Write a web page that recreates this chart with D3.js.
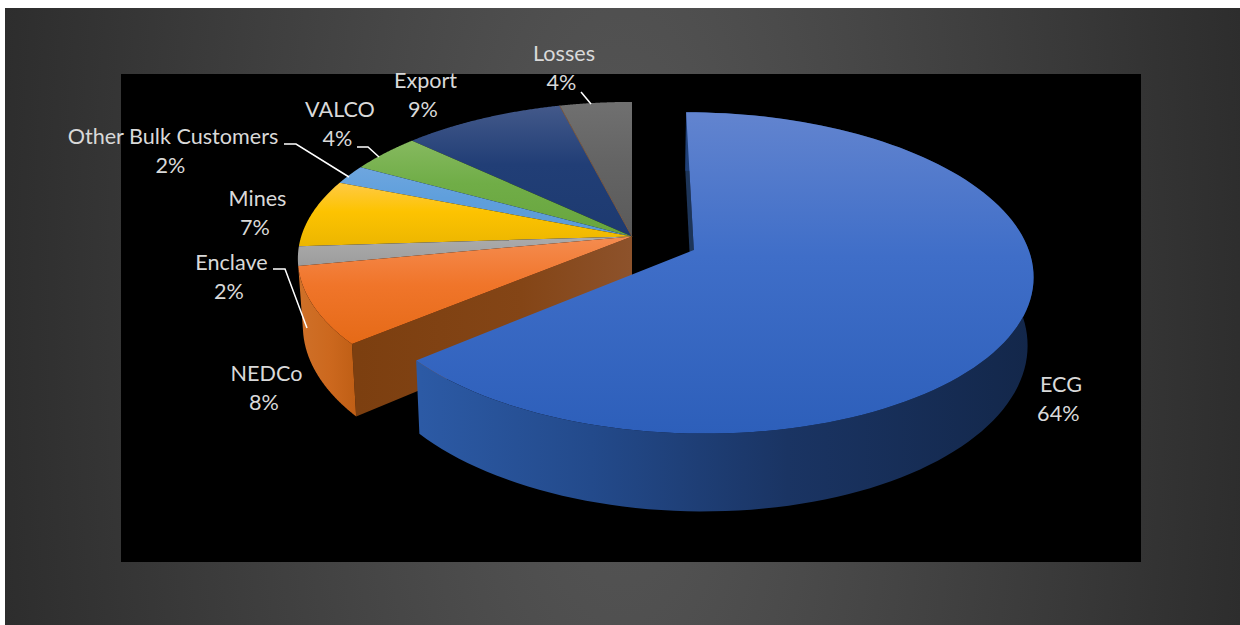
<!DOCTYPE html>
<html>
<head>
<meta charset="utf-8">
<script src="https://cdn.jsdelivr.net/npm/d3@7/dist/d3.min.js"></script>
<style>
html,body{margin:0;padding:0;background:#fff;overflow:hidden}
svg{display:block}
text{font-family:Lato,"Noto Sans",sans-serif;font-size:21.6px;fill:#d9d9d9;text-anchor:middle}
</style>
</head>
<body>
<svg id="chart" width="1240" height="625"></svg>
<script>
// Electricity consumption shares by customer class
const categories = ["ECG","NEDCo","Enclave","Mines","Other Bulk Customers","VALCO","Export","Losses"];
const shares = [64,8,2,7,2,4,9,4];

// Label centres and leader lines, in page pixels
const labelCentres = [[1061,385],[266.5,374],[231.5,263],[257.5,199],[173,137],[340,110],[425.5,81],[564,54]];
const percentNudge = -2.7;
const leaders = [null,null,
  [[273,269],[285,269],[307,328]],
  null,
  [[284,144],[296,144],[349,177]],
  [[357,147],[368,147],[379,157]],
  null,
  [[581,92],[591,104]]];

// Fill ramps for the top faces, top to bottom
const topRamps = [
  ["#6284cf","#3f6ec8","#2d5fba"],
  ["#f58c50","#f0752a","#e56a17"],
  ["#ababab","#a5a5a5","#9c9c9c"],
  ["#ffca45","#fdc301","#ecb600"],
  ["#6ea6df","#5f9fdc","#5b9ad6"],
  ["#86b95f","#70ad47","#68a53e"],
  ["#43598a","#213e76","#1d3a70"],
  ["#707070","#646464","#5a5a5a"]
];

const width = 1240, height = 625;
const svg = d3.select("#chart");
const defs = svg.append("defs");

// Ground-plane projection: x/y on the unit disc, z from top face (0) to base (1)
const cx = 632, cy = 236.5, persp = 6.95, fx = 2346, ky = 1089, drop = 458;
const radius = 0.98, explode = 0.2;
const project = (x, y, z = 0) => [
  cx + fx * x / (persp + y) * (1 - 0.015 * z),
  cy + (-ky * y + drop * z) / (persp + y)
];
const line = d3.line();

const arcs = d3.pie().value(d => d).sort(null)(shares);
const origin = i => {
  if (i !== 0) return [0, 0];
  const m = (arcs[0].startAngle + arcs[0].endAngle) / 2;
  return [explode * Math.sin(m), explode * Math.cos(m)];
};
const rimPoints = (i, a0, a1, z) => {
  const [ox, oy] = origin(i);
  return d3.range(0, 121).map(k => {
    const a = a0 + (a1 - a0) * k / 120;
    return project(ox + radius * Math.sin(a), oy + radius * Math.cos(a), z);
  });
};
const topPath = i => {
  const [ox, oy] = origin(i);
  return line([project(ox, oy), ...rimPoints(i, arcs[i].startAngle, arcs[i].endAngle, 0)]) + "Z";
};
const wallPath = (i, a0, a1) =>
  line([...rimPoints(i, a0, a1, 0), ...rimPoints(i, a0, a1, 1).reverse()]) + "Z";
const cutPath = (i, a) => {
  const [ox, oy] = origin(i);
  const rx = ox + radius * Math.sin(a), ry = oy + radius * Math.cos(a);
  return line([project(ox, oy), project(rx, ry), project(rx, ry, 1), project(ox, oy, 1)]) + "Z";
};

function gradient(id, x1, y1, x2, y2, stops, units = "userSpaceOnUse") {
  const g = defs.append("linearGradient").attr("id", id)
    .attr("gradientUnits", units)
    .attr("x1", x1).attr("y1", y1).attr("x2", x2).attr("y2", y2);
  stops.forEach(([o, c]) => g.append("stop").attr("offset", o).attr("stop-color", c));
}

// Page backdrop, brightest through the vertical middle
const bg = defs.append("radialGradient").attr("id", "backdrop")
  .attr("gradientUnits", "userSpaceOnUse").attr("cx", 0).attr("cy", 0).attr("r", 1)
  .attr("gradientTransform", "translate(622,316) scale(732,1900)");
bg.append("stop").attr("offset", 0).attr("stop-color", "#585858");
bg.append("stop").attr("offset", 1).attr("stop-color", "#262626");
svg.append("rect").attr("x", 5).attr("y", 8).attr("width", width - 5).attr("height", height - 8)
  .attr("fill", "url(#backdrop)");
svg.append("rect").attr("x", 121).attr("y", 74).attr("width", 1020).attr("height", 488).attr("fill", "#000");

// Each top face carries its own vertical ramp
arcs.forEach((d, i) => {
  gradient("top" + i, 0, 0, 0, 1, [[0, topRamps[i][0]], [0.45, topRamps[i][1]], [1, topRamps[i][2]]], "objectBoundingBox");
});
gradient("wallEcg", 420, 0, 1033, 0, [[0, "#2c5aa5"], [0.28, "#234a8b"], [0.6, "#1a3463"], [1, "#13274a"]]);
gradient("wallNedco", 300, 0, 360, 0, [[0, "#cf7028"], [0.5, "#cc681e"], [1, "#bd5d14"]]);
gradient("cutNedco", 358, 0, 631, 0, [[0, "#7c3f10"], [0.6, "#844516"], [1, "#8d522b"]]);

// Rear slices only show their top faces
[7, 6, 5, 4, 3, 2].forEach(i => {
  svg.append("path").attr("d", topPath(i)).attr("fill", `url(#top${i})`);
});
// Hairline where Export meets Losses
svg.append("path")
  .attr("d", line([project(0, 0), ...rimPoints(7, arcs[7].startAngle, arcs[7].startAngle, 0).slice(0, 1)]))
  .attr("stroke", "#7a5a44").attr("stroke-width", 1).attr("fill", "none");

// NEDCo: cut face, rim, then top
svg.append("path").attr("d", cutPath(1, arcs[1].startAngle)).attr("fill", "url(#cutNedco)");
svg.append("path").attr("d", wallPath(1, arcs[1].startAngle, arcs[1].endAngle)).attr("fill", "url(#wallNedco)");
svg.append("path").attr("d", topPath(1)).attr("fill", "url(#top1)");

// ECG: exploded slice with its inner sliver, rim and top
svg.append("path").attr("d", cutPath(0, arcs[0].startAngle)).attr("fill", "#1d3559");
svg.append("path").attr("d", wallPath(0, arcs[0].startAngle, arcs[0].endAngle)).attr("fill", "url(#wallEcg)");
svg.append("path").attr("d", topPath(0)).attr("fill", "url(#top0)");

// Leader lines
leaders.forEach(pts => {
  if (pts) svg.append("path").attr("d", line(pts)).attr("fill", "none")
    .attr("stroke", "#fff").attr("stroke-width", 1.5);
});

// Two-line data labels
categories.forEach((name, i) => {
  const [x, y] = labelCentres[i];
  const t = svg.append("text").attr("x", x).attr("y", y + 7);
  t.append("tspan").attr("x", x).text(name);
  t.append("tspan").attr("x", x + percentNudge).attr("dy", 29.4).text(shares[i] + "%");
});
</script>
</body>
</html>
